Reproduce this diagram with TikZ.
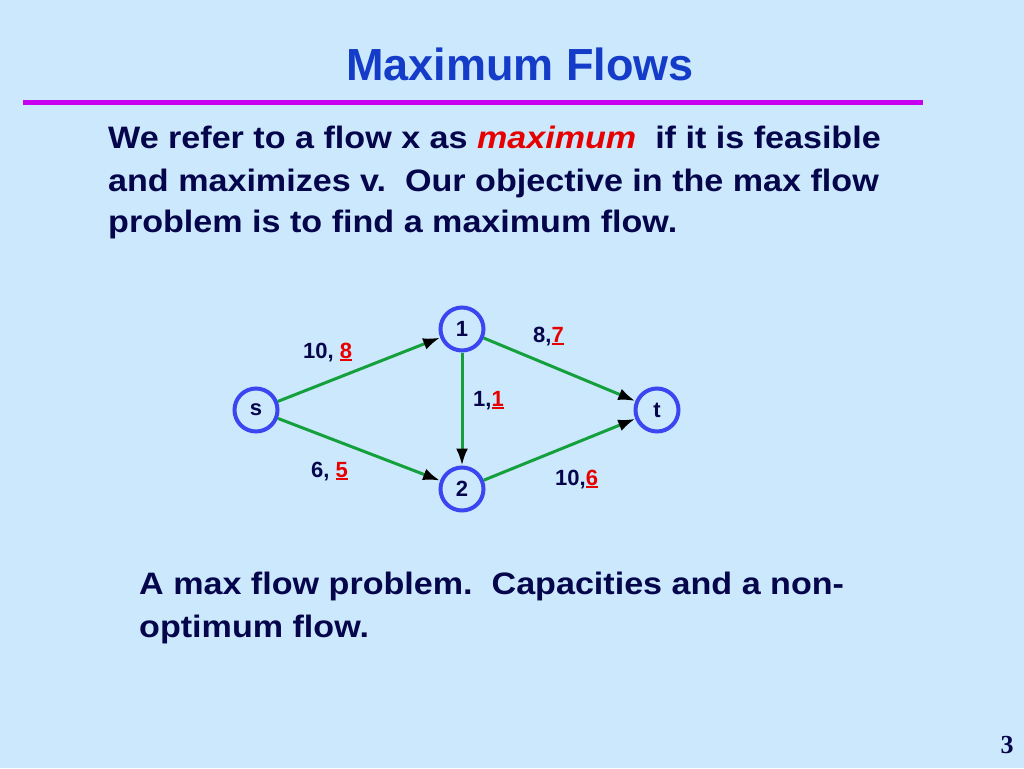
\documentclass[tikz,border=0pt]{standalone}
\usepackage{fontspec}
\setmainfont{Liberation Sans}
\newfontfamily\bodyfont[FakeStretch=1.1]{Liberation Sans}
\newfontfamily\numfont{Liberation Serif}
\usetikzlibrary{positioning,arrows.meta}

\definecolor{slidebg}{RGB}{204,232,252}
\definecolor{titleblue}{RGB}{20,60,200}
\definecolor{textnavy}{RGB}{5,5,75}
\definecolor{rulepurple}{RGB}{200,0,240}
\definecolor{nodeblue}{RGB}{60,70,240}
\definecolor{arcgreen}{RGB}{20,160,60}
\definecolor{flowred}{RGB}{230,0,0}

\newcommand\flowval[1]{\textcolor{flowred}{\setbox0\hbox{#1}\rlap{\rule[-3pt]{\wd0}{2.5pt}}\box0}}

\begin{document}
\begin{tikzpicture}[x=1pt,y=-1pt,>={Latex[length=17pt,width=12pt,black]},
			vertex/.style={
				draw=nodeblue,
				line width=4pt,
				circle,
				minimum size=43pt,
				inner sep=0pt,
				font=\fontsize{22}{24}\selectfont\bfseries,
				text=textnavy
			},
			arc/.style={->,draw=arcgreen,line width=3pt},
			capflow/.style={anchor=base west,inner sep=0pt,
				font=\fontsize{22}{24}\selectfont\bfseries,text=textnavy},
			bodyline/.style={anchor=base west,inner sep=0pt,
				font=\fontsize{31}{36}\bodyfont\bfseries,text=textnavy}]
			
			\fill[slidebg] (0,0) rectangle (1024,768);
			\useasboundingbox (0,0) rectangle (1024,768);
			
			\node (title)[anchor=base,inner sep=0pt,text=titleblue,
				font=\fontsize{45}{50}\selectfont\bfseries] at (520,80) {Maximum Flows};
			
			\draw[rulepurple,line width=5pt] (23,102) -- (923,102);
			
			\node (intro1)[bodyline] at (108,148) {We refer to a flow x as \textcolor{flowred}{\itshape maximum}\ \ if it is feasible};
			
			\node (intro2)[bodyline] at (108,191) {and maximizes v.\ \ Our objective in the max flow};
			
			\node (intro3)[bodyline] at (108,232) {problem is to find a maximum flow.};
			
			\node (s)[vertex] at (256,410) {s};
			
			\node (one)[vertex,on grid,above right=81pt and 206pt of s] {1};
			
			\node (two)[vertex,on grid,below right=79pt and 206pt of s] {2};
			
			\node (t)[vertex,on grid,right=401pt of s] {t};
			
			\draw[arc](s)--(one);
			
			\draw[arc](s)--(two);
			
			\draw[arc](one)--(two);
			
			\draw[arc](one)--(t);
			
			\draw[arc](two)--(t);
			
			\node (l-s1)[capflow] at (303,358) {10, \flowval{8}};
			
			\node (l-1t)[capflow] at (533,342) {8,\flowval{7}};
			
			\node (l-12)[capflow] at (473,406) {1,\flowval{1}};
			
			\node (l-s2)[capflow] at (311,477) {6, \flowval{5}};
			
			\node (l-2t)[capflow] at (555,485) {10,\flowval{6}};
			
			\node (caption1)[bodyline] at (139,594) {A max flow problem.\ \ Capacities and a non-};
			
			\node (caption2)[bodyline] at (139,637) {optimum flow.};
			
			\node (page)[anchor=base,inner sep=0pt,text=textnavy,
				font=\fontsize{26}{28}\selectfont\numfont\bfseries] at (1007,753) {3};
			
		\end{tikzpicture}
\end{document}
